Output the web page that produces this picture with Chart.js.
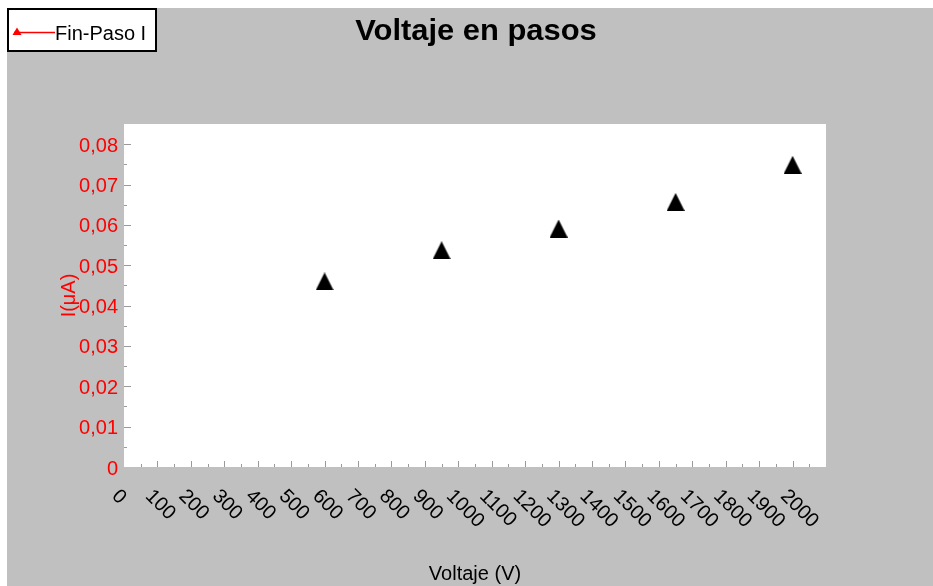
<!DOCTYPE html>
<html>
<head>
<meta charset="utf-8">
<script src="https://cdn.jsdelivr.net/npm/chart.js@4/dist/chart.umd.min.js"></script>
<style>
  html, body { margin: 0; padding: 0; background: #ffffff; }
  #wrap { width: 933px; height: 586px; }
</style>
</head>
<body>
<div id="wrap"><canvas id="c" width="933" height="586"></canvas></div>
<script>
// Measured current at each voltage step
const voltages = [600, 950, 1300, 1650, 2000];
const currents = [0.0460, 0.0537, 0.0591, 0.0657, 0.0749];

// Axis tick labels
const xTickValues = [0, 100, 200, 300, 400, 500, 600, 700, 800, 900, 1000,
                     1100, 1200, 1300, 1400, 1500, 1600, 1700, 1800, 1900, 2000];
const yTickValues = [0, 0.01, 0.02, 0.03, 0.04, 0.05, 0.06, 0.07, 0.08];

const seriesName = 'Fin-Paso I';
const chartTitle = 'Voltaje en pasos';
const xTitle = 'Voltaje (V)';
const yTitle = 'I(\u03BCA)';

const FONT = '"Liberation Sans", Arial, sans-serif';

// Filled triangle marker used for the data points
function triangleMarker(w, h, color) {
  const cv = document.createElement('canvas');
  cv.width = w; cv.height = h;
  const g = cv.getContext('2d');
  g.fillStyle = color;
  g.beginPath();
  g.moveTo(w / 2, 0);
  g.lineTo(w, h);
  g.lineTo(0, h);
  g.closePath();
  g.fill();
  return cv;
}
const pointMarker = triangleMarker(18, 18, '#000000');

function yLabel(v) {
  if (v === 0) return '0';
  return v.toFixed(2).replace('.', ',');
}

// Panel background, plot area, inner tick marks, rotated x labels, title and legend
const decorations = {
  id: 'decorations',
  beforeDraw(chart) {
    const ctx = chart.ctx;
    const a = chart.chartArea;
    ctx.save();
    ctx.fillStyle = '#ffffff';
    ctx.fillRect(0, 0, chart.width, chart.height);
    ctx.fillStyle = '#c0c0c0';
    ctx.fillRect(7, 8, chart.width - 7, chart.height - 8);
    ctx.fillStyle = '#ffffff';
    ctx.fillRect(a.left, a.top, a.right - a.left, a.bottom - a.top);
    ctx.restore();
  },
  beforeDatasetsDraw(chart) {
    const ctx = chart.ctx;
    const a = chart.chartArea;
    const xs = chart.scales.x;
    const ys = chart.scales.y;
    ctx.save();
    ctx.strokeStyle = '#9a9a9a';
    ctx.lineWidth = 1;
    ctx.beginPath();
    // x tick marks: every 50 V, longer at each 100 V
    for (let v = 50; v < xs.max; v += 50) {
      const px = Math.round(xs.getPixelForValue(v)) + 0.5;
      const len = (v % 100 === 0) ? 6 : 3;
      ctx.moveTo(px, a.bottom);
      ctx.lineTo(px, a.bottom - len);
    }
    // y tick marks: every 0.005, longer at each 0.01
    for (let k = 1; k * 0.005 < ys.max; k++) {
      const py = Math.round(ys.getPixelForValue(k * 0.005)) + 0.5;
      const len = (k % 2 === 0) ? 7 : 3;
      ctx.moveTo(a.left, py);
      ctx.lineTo(a.left + len, py);
    }
    ctx.stroke();
    ctx.restore();
  },
  afterDraw(chart) {
    const ctx = chart.ctx;
    const a = chart.chartArea;
    const xs = chart.scales.x;
    ctx.save();

    // rotated x tick labels
    ctx.fillStyle = '#000000';
    ctx.font = '20px ' + FONT;
    ctx.textAlign = 'left';
    ctx.textBaseline = 'middle';
    xTickValues.forEach(v => {
      const px = xs.getPixelForValue(v);
      ctx.save();
      ctx.translate(px - 9, a.bottom + 26);
      ctx.rotate(Math.PI / 4);
      ctx.fillText(String(v), 0, 0);
      ctx.restore();
    });

    // chart title
    ctx.save();
    ctx.translate(476, 40);
    ctx.scale(1.03, 1);
    ctx.font = 'bold 30px ' + FONT;
    ctx.textAlign = 'center';
    ctx.textBaseline = 'alphabetic';
    ctx.fillStyle = '#000000';
    ctx.fillText(chartTitle, 0, 0);
    ctx.restore();

    // legend box
    ctx.fillStyle = '#ffffff';
    ctx.fillRect(7, 8, 150, 44);
    ctx.strokeStyle = '#000000';
    ctx.lineWidth = 2;
    ctx.strokeRect(8, 9, 148, 42);
    ctx.strokeStyle = '#ff0000';
    ctx.lineWidth = 1.5;
    ctx.beginPath();
    ctx.moveTo(14, 32.5);
    ctx.lineTo(55, 32.5);
    ctx.stroke();
    ctx.fillStyle = '#ff0000';
    ctx.beginPath();
    ctx.moveTo(17, 27.5);
    ctx.lineTo(21.5, 35);
    ctx.lineTo(12.5, 35);
    ctx.closePath();
    ctx.fill();
    ctx.fillStyle = '#000000';
    ctx.font = '20px ' + FONT;
    ctx.textAlign = 'left';
    ctx.textBaseline = 'alphabetic';
    ctx.fillText(seriesName, 55, 39.5);

    ctx.restore();
  }
};

new Chart(document.getElementById('c'), {
  type: 'scatter',
  data: {
    datasets: [{
      label: seriesName,
      data: voltages.map((v, i) => ({ x: v, y: currents[i] })),
      showLine: false,
      borderColor: '#ff0000',
      backgroundColor: '#000000',
      pointStyle: pointMarker,
      pointRadius: 9,
      pointHoverRadius: 9
    }]
  },
  options: {
    responsive: false,
    animation: false,
    devicePixelRatio: 1,
    events: [],
    layout: { padding: { top: 124, right: 107, left: 0, bottom: 0 } },
    plugins: {
      legend: { display: false },
      title: { display: false },
      tooltip: { enabled: false }
    },
    scales: {
      x: {
        type: 'linear',
        min: 0,
        max: 2100,
        grid: { display: false },
        border: { display: false },
        ticks: { display: false, stepSize: 100 },
        title: {
          display: true,
          text: xTitle,
          color: '#000000',
          font: { family: FONT, size: 20 },
          padding: 0
        },
        afterFit(s) { s.height = 119; }
      },
      y: {
        type: 'linear',
        min: 0,
        max: 0.085,
        grid: { display: false, drawTicks: false },
        border: { display: false },
        ticks: {
          stepSize: 0.005,
          autoSkip: false,
          padding: 6,
          labelOffset: 2,
          color: '#ff0000',
          font: { family: FONT, size: 20 },
          callback(value) {
            const hit = yTickValues.find(t => Math.abs(t - value) < 1e-9);
            return hit === undefined ? '' : yLabel(hit);
          }
        },
        title: {
          display: true,
          text: yTitle,
          color: '#ff0000',
          font: { family: FONT, size: 20 },
          padding: { top: 57, bottom: 0 }
        },
        afterFit(s) { s.width = 124; }
      }
    }
  },
  plugins: [decorations]
});
</script>
</body>
</html>
